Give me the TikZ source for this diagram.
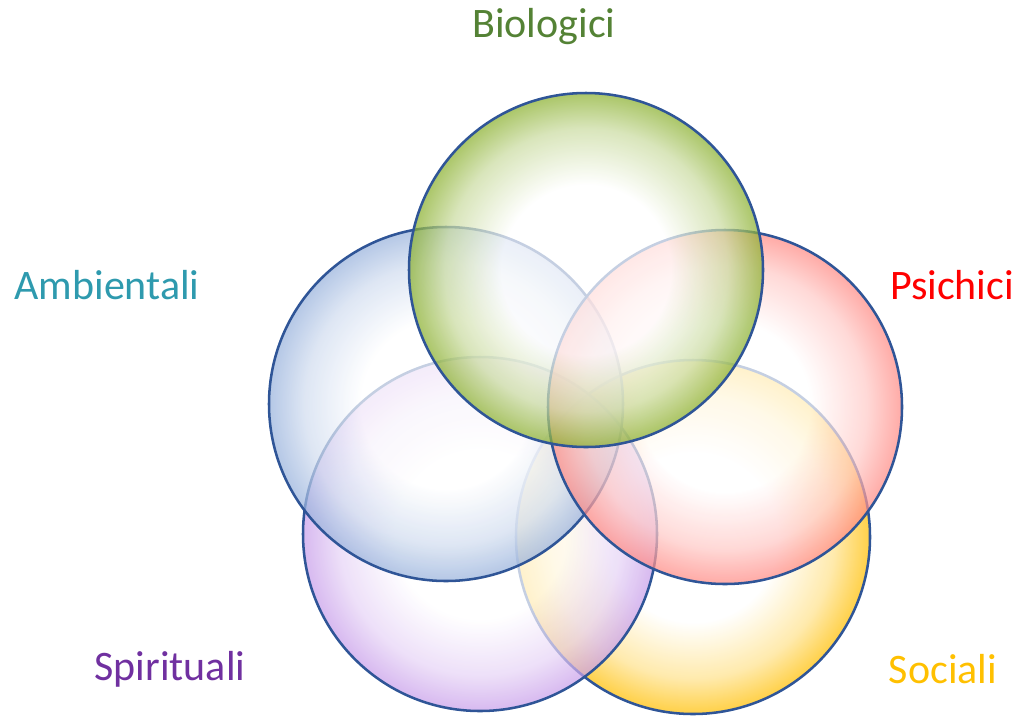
\documentclass[tikz,border=0pt]{standalone}
\usepackage{fontspec}
\setmainfont{Carlito}
\definecolor{gedge}{HTML}{8AB02E}
\definecolor{bedge}{HTML}{98B2DC}
\definecolor{redge}{HTML}{FF8A84}
\definecolor{pedge}{HTML}{C89EEA}
\definecolor{yedge}{HTML}{FFBE00}
\definecolor{outl}{HTML}{2F5597}
\definecolor{tgreen}{HTML}{548235}
\definecolor{tteal}{HTML}{2E9AAE}
\definecolor{tred}{HTML}{FF0000}
\definecolor{tpurple}{HTML}{7030A0}
\definecolor{tyellow}{HTML}{FFC000}
\pgfdeclareradialshading{gsh}{\pgfpoint{0bp}{0bp}}{color(0bp)=(white); color(12bp)=(white); color(20bp)=(gedge!45!white); color(25bp)=(gedge); color(50bp)=(gedge)}
\pgfdeclareradialshading{bsh}{\pgfpoint{0bp}{0bp}}{color(0bp)=(white); color(12bp)=(white); color(20bp)=(bedge!45!white); color(25bp)=(bedge); color(50bp)=(bedge)}
\pgfdeclareradialshading{rsh}{\pgfpoint{0bp}{0bp}}{color(0bp)=(white); color(12bp)=(white); color(20bp)=(redge!45!white); color(25bp)=(redge); color(50bp)=(redge)}
\pgfdeclareradialshading{psh}{\pgfpoint{0bp}{0bp}}{color(0bp)=(white); color(12bp)=(white); color(20bp)=(pedge!45!white); color(25bp)=(pedge); color(50bp)=(pedge)}
\pgfdeclareradialshading{ysh}{\pgfpoint{0bp}{0bp}}{color(0bp)=(white); color(12bp)=(white); color(20bp)=(yedge!45!white); color(25bp)=(yedge); color(50bp)=(yedge)}
\tikzset{
  ring/.style={circle, minimum size=265.5pt, inner sep=0pt, draw=outl, line width=1.9pt, fill opacity=0.72, draw opacity=1},
  lab/.style={font=\fontsize{31.5}{38}\selectfont, inner sep=0pt}
}
\begin{document}
\begin{tikzpicture}[x=0.75pt, y=-0.75pt]
\useasboundingbox (0,0) rectangle (1017,719);
\node[ring, shading=ysh] (soc) at (693,537) {};
\node[ring, shading=psh] (spi) at (480,534) {};
\node[ring, shading=bsh] (amb) at (446,404) {};
\node[ring, shading=rsh] (psi) at (725,407) {};
\node[ring, shading=gsh] (bio) at (586,270) {};
\node[lab, text=tgreen] (tbio) at (544,27) {Biologici};
\node[lab, text=tteal] (tamb) at (107,285) {Ambientali};
\node[lab, text=tred] (tpsi) at (952,285) {Psichici};
\node[lab, text=tpurple] (tspi) at (170,669) {Spirituali};
\node[lab, text=tyellow] (tsoc) at (943,669) {Sociali};
\end{tikzpicture}
\end{document}
